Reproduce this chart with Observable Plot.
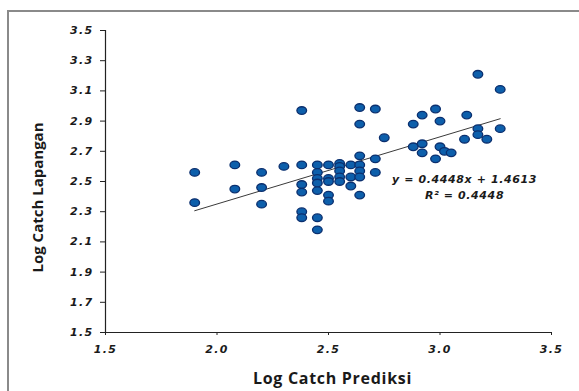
<!DOCTYPE html>
<html>
<head>
<meta charset="utf-8">
<script src="https://cdn.jsdelivr.net/npm/d3@7"></script>
<script src="https://cdn.jsdelivr.net/npm/@observablehq/plot@0.6"></script>
<style>
  html, body { margin: 0; padding: 0; background: #fff; }
  #wrap { position: relative; width: 579px; height: 391px; overflow: hidden; }
  #frame { position: absolute; left: 7px; top: 10px; width: 620px; height: 420px;
           border-left: 2px solid #8a8a8a; border-top: 2px solid #8a8a8a; }
  #chart { position: absolute; left: 0; top: 0; }
</style>
</head>
<body>
<div id="wrap"><div id="frame"></div><div id="chart"></div></div>
<script>
// Predicted log catch (x) and field log catch (y), one entry per point
const logCatchPrediksi = [
  1.90, 1.90, 2.08, 2.08, 2.20, 2.20, 2.20, 2.30,
  2.38, 2.38, 2.38, 2.38, 2.38, 2.38,
  2.45, 2.45, 2.45, 2.45, 2.45, 2.45, 2.45,
  2.50, 2.50, 2.50, 2.50, 2.50,
  2.55, 2.55, 2.55, 2.55, 2.55,
  2.60, 2.60, 2.60,
  2.64, 2.64, 2.64, 2.64, 2.64, 2.64, 2.64,
  2.71, 2.71, 2.71, 2.75,
  2.88, 2.88, 2.92, 2.92, 2.92, 2.98, 2.98, 3.00, 3.00, 3.02, 3.05,
  3.11, 3.12, 3.17, 3.17, 3.17, 3.21, 3.27, 3.27
];
const logCatchLapangan = [
  2.56, 2.36, 2.61, 2.45, 2.56, 2.46, 2.35, 2.60,
  2.97, 2.61, 2.48, 2.43, 2.30, 2.26,
  2.61, 2.56, 2.52, 2.49, 2.44, 2.26, 2.18,
  2.61, 2.52, 2.50, 2.41, 2.37,
  2.62, 2.60, 2.57, 2.53, 2.50,
  2.61, 2.53, 2.47,
  2.99, 2.88, 2.67, 2.61, 2.57, 2.53, 2.41,
  2.98, 2.65, 2.56, 2.79,
  2.88, 2.73, 2.94, 2.75, 2.69, 2.98, 2.65, 2.90, 2.73, 2.70, 2.69,
  2.78, 2.94, 3.21, 2.85, 2.81, 2.78, 3.11, 2.85
];
const xTicks = [1.5, 2.0, 2.5, 3.0, 3.5];
const yTicks = [1.5, 1.7, 1.9, 2.1, 2.3, 2.5, 2.7, 2.9, 3.1, 3.3, 3.5];
const slope = 0.4448;
const intercept = 1.4613;
const rSquared = 0.4448;
const xTitle = "Log Catch Prediksi";
const yTitle = "Log Catch Lapangan";
const eqPos = {x: 3.11, y: 2.53};

const points = logCatchPrediksi.map((x, i) => ({x, y: logCatchLapangan[i]}));
const xMin = d3.min(logCatchPrediksi), xMax = d3.max(logCatchPrediksi);
const trend = [xMin, xMax].map(x => ({x, y: slope * x + intercept}));
const eqText = `y = ${slope.toFixed(4)}x + ${intercept.toFixed(4)}\nR² = ${rSquared.toFixed(4)}`;

// Ellipse marker symbol (slightly wider than tall)
const ellipse = {
  draw(ctx, size) {
    const r = Math.sqrt(size / Math.PI);
    const rx = r * 1.18, ry = r * 0.92, k = 0.5523;
    ctx.moveTo(rx, 0);
    ctx.bezierCurveTo(rx, ry * k, rx * k, ry, 0, ry);
    ctx.bezierCurveTo(-rx * k, ry, -rx, ry * k, -rx, 0);
    ctx.bezierCurveTo(-rx, -ry * k, -rx * k, -ry, 0, -ry);
    ctx.bezierCurveTo(rx * k, -ry, rx, -ry * k, rx, 0);
    ctx.closePath();
  }
};

const tickFont = "'DejaVu Sans', Verdana, sans-serif";

const chart = Plot.plot({
  width: 579,
  height: 391,
  marginLeft: 105,
  marginRight: 28,
  marginTop: 30,
  marginBottom: 59,
  style: {background: "transparent", color: "#1a1a1a"},
  x: {domain: [1.5, 3.5]},
  y: {domain: [1.5, 3.5]},
  marks: [
    Plot.axisY({ticks: yTicks, tickFormat: d3.format(".1f"), tickSize: 5, tickPadding: 7,
      label: null, fontSize: 11, fontWeight: "bold", fontStyle: "italic", fontFamily: tickFont,
      stroke: "#222"}),
    Plot.axisX({ticks: xTicks, tickFormat: d3.format(".1f"), tickSize: 3, tickPadding: 10,
      label: null, fontSize: 11, fontWeight: "bold", fontStyle: "italic", fontFamily: tickFont,
      stroke: "#222"}),
    Plot.ruleX([1.5], {stroke: "#222", strokeWidth: 1.2}),
    Plot.ruleY([1.5], {stroke: "#222", strokeWidth: 1.2}),
    Plot.line(trend, {x: "x", y: "y", stroke: "#3a3a3a", strokeWidth: 1}),
    Plot.dot(points, {x: "x", y: "y", symbol: ellipse, r: 4.1,
      fill: "#0d5fab", stroke: "#0b2f6e", strokeWidth: 1.3}),
    Plot.text([eqText], {x: () => eqPos.x, y: () => eqPos.y, text: d => d,
      textAnchor: "middle", lineAnchor: "top", lineHeight: 1.5,
      fontSize: 11, fontWeight: "bold", fontStyle: "italic", fontFamily: tickFont,
      fill: "#1a1a1a", dy: -6, className: "eq"}),
    Plot.text([xTitle], {frameAnchor: "bottom", text: d => d, dx: 4, dy: 46,
      textAnchor: "middle", lineAnchor: "middle", fontSize: 16, fontWeight: "bold",
      fontFamily: "'Open Sans', Lato, sans-serif", fill: "#1a1a1a", className: "xtitle"}),
    Plot.text([yTitle], {frameAnchor: "left", text: d => d, dx: -67, dy: 16, rotate: -90,
      textAnchor: "middle", lineAnchor: "middle", fontSize: 15, fontWeight: "bold",
      fontFamily: "'Open Sans', Lato, sans-serif", fill: "#1a1a1a"})
  ]
});
// The reference text is horizontally widened; mimic with letter spacing
d3.select(chart).selectAll('g[aria-label="y-axis tick label"] text, g[aria-label="x-axis tick label"] text')
  .style("letter-spacing", "1.3px");
d3.select(chart).selectAll('g.eq text').style("letter-spacing", "0.6px");
d3.select(chart).selectAll('g.xtitle text').style("letter-spacing", "0.7px");
document.getElementById("chart").appendChild(chart);
</script>
</body>
</html>
